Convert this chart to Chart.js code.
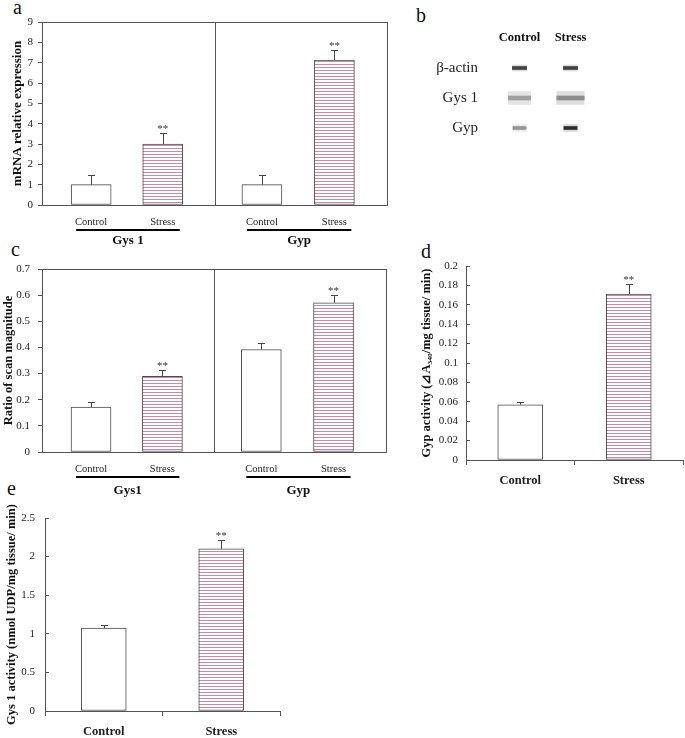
<!DOCTYPE html>
<html><head><meta charset="utf-8">
<script src="https://cdn.jsdelivr.net/npm/chart.js@4/dist/chart.umd.min.js"></script>
<style>
html,body{margin:0;padding:0;background:#fff;}
body{width:685px;height:738px;position:relative;overflow:hidden;font-family:"Liberation Serif",serif;}
.p{position:absolute;}
.p canvas{display:block;}
.lt{position:absolute;font:20px "Liberation Serif",serif;color:#111;line-height:1;}
</style></head><body>
<div class="lt" style="left:13px;top:-3px">a</div>
<div class="lt" style="left:416px;top:5px">b</div>
<div class="lt" style="left:11px;top:239px">c</div>
<div class="lt" style="left:421px;top:241px">d</div>
<div class="lt" style="left:7px;top:478px">e</div>
<div class="p" style="left:0;top:0;width:395px;height:250px"><canvas id="ca"></canvas></div>
<div class="p" style="left:400px;top:0;width:285px;height:160px"><canvas id="cb"></canvas></div>
<div class="p" style="left:0;top:250px;width:395px;height:255px"><canvas id="cc"></canvas></div>
<div class="p" style="left:390px;top:240px;width:295px;height:255px"><canvas id="cd"></canvas></div>
<div class="p" style="left:0;top:490px;width:300px;height:248px"><canvas id="ce"></canvas></div>
<script>
// ---------- data ----------
const conditions = ['Control', 'Stress'];
const genesA = ['Gys 1', 'Gyp'];
const genesC = ['Gys1', 'Gyp'];
const significance = ['', '**', '', '**'];
// a: mRNA relative expression (Gys 1 control, Gys 1 stress, Gyp control, Gyp stress)
const mrnaMean = [1.0, 3.0, 1.0, 7.13];
const mrnaErr = [0.47, 0.56, 0.5, 0.51];
const mrnaTicks = [0, 1, 2, 3, 4, 5, 6, 7, 8, 9];
// c: ratio of scan magnitude
const ratioMean = [0.172, 0.289, 0.392, 0.571];
const ratioErr = [0.021, 0.025, 0.024, 0.030];
const ratioTicks = [0, 0.1, 0.2, 0.3, 0.4, 0.5, 0.6, 0.7];
// d: Gyp activity
const gypActivity = [0.057, 0.171];
const gypActivityErr = [0.003, 0.010];
const gypTicks = [0, 0.02, 0.04, 0.06, 0.08, 0.1, 0.12, 0.14, 0.16, 0.18, 0.2];
const sigD = ['', '**'];
// e: Gys 1 activity
const gys1Activity = [1.075, 2.10];
const gys1ActivityErr = [0.043, 0.115];
const gys1Ticks = [0, 0.5, 1, 1.5, 2, 2.5];
const sigE = ['', '**'];
// b: western blot band intensity (0..1)
const blotRows = ['β-actin', 'Gys 1', 'Gyp'];
const blotControl = [0.80, 0.50, 0.45];
const blotStress = [0.80, 0.60, 0.90];

// ---------- styles ----------
const SERIF = '"Liberation Serif", "Times New Roman", serif';
const AX = '#555';
const OUT = '#4a4a4a';
function stripePattern() {
  const c = document.createElement('canvas'); c.width = 4; c.height = 3;
  const g = c.getContext('2d');
  g.fillStyle = '#fff'; g.fillRect(0, 0, 4, 3);
  g.fillStyle = '#c98ba3'; g.fillRect(0, 1, 4, 1);
  return g.createPattern(c, 'repeat');
}
const STRIPE = stripePattern();
const slots = [0.57, 1.40, 2.55, 3.39];   // horizontal slot positions (style)

const decor = {
  id: 'decor',
  afterDatasetsDraw(chart, args, o) {
    const ctx = chart.ctx;
    const meta = chart.getDatasetMeta(0);
    const ds = chart.data.datasets[0];
    const ys = chart.scales.y;
    ctx.save();
    meta.data.forEach((bar, i) => {
      const v = ds.means[i], e = ds.errors[i];
      const yt = ys.getPixelForValue(v), ye = ys.getPixelForValue(v + e);
      ctx.strokeStyle = '#444'; ctx.lineWidth = 1;
      ctx.beginPath();
      const x = Math.round(bar.x) + 0.5;
      ctx.moveTo(x, yt); ctx.lineTo(x, Math.round(ye) + 0.5);
      ctx.moveTo(x - 3.5, Math.round(ye) + 0.5); ctx.lineTo(x + 3.5, Math.round(ye) + 0.5);
      ctx.stroke();
      if (ds.stars[i]) {
        ctx.fillStyle = '#333'; ctx.font = '11px ' + SERIF;
        ctx.textAlign = 'center'; ctx.textBaseline = 'alphabetic';
        ctx.fillText(ds.stars[i], bar.x, ye - 1);
      }
    });
    ctx.restore();
  },
  afterDraw(chart, args, o) {
    const ctx = chart.ctx, a = chart.chartArea;
    const xs = chart.scales.x;
    ctx.save();
    if (o.box) {
      ctx.strokeStyle = AX; ctx.lineWidth = 1;
      ctx.strokeRect(Math.round(a.left) + 0.5, Math.round(a.top) + 0.5, Math.round(a.right - a.left), Math.round(a.bottom - a.top));
    }
    if (o.divider !== undefined) {
      const x = Math.round(xs.getPixelForValue(o.divider)) + 0.5;
      ctx.strokeStyle = AX; ctx.beginPath(); ctx.moveTo(x, a.top); ctx.lineTo(x, a.bottom); ctx.stroke();
    }
    if (o.groups) {
      const meta = chart.getDatasetMeta(0);
      o.groups.forEach((g, gi) => {
        const b0 = meta.data[gi * 2], b1 = meta.data[gi * 2 + 1];
        ctx.fillStyle = '#222'; ctx.font = '10.5px ' + SERIF;
        ctx.textAlign = 'center'; ctx.textBaseline = 'middle';
        ctx.fillText(o.cats[0], b0.x, o.catY);
        ctx.fillText(o.cats[1], b1.x, o.catY);
        ctx.strokeStyle = '#000'; ctx.lineWidth = 2;
        ctx.beginPath(); ctx.moveTo(b0.x - 15, o.lineY); ctx.lineTo(b1.x + 17, o.lineY); ctx.stroke();
        ctx.font = 'bold 13px ' + SERIF; ctx.fillStyle = '#111';
        ctx.fillText(g, (b0.x + b1.x) / 2 + 1, o.groupY);
      });
    }
    ctx.restore();
  }
};

function yAxis(min, max, ticks, title, w, tl, pad, tsize, tpad, fmt) {
  return {
    min, max,
    afterBuildTicks: s => { s.ticks = ticks.map(v => ({ value: v })); },
    afterFit: s => { s.width = w; },
    ticks: { font: { family: SERIF, size: 11 }, color: '#222', padding: pad, callback: fmt || (v => String(v)) },
    grid: { drawOnChartArea: false, tickLength: tl, color: AX },
    border: { color: AX },
    title: { display: true, text: title, color: '#111', font: { family: SERIF, size: tsize, weight: 'bold' }, padding: { top: tpad, bottom: 0 } }
  };
}

function groupedPanel(id, means, errs, yt, title, pad, tsize, tpad, lpad, dec) {
  return new Chart(document.getElementById(id), {
    type: 'bar',
    data: { datasets: [{
      data: means.map((v, i) => ({ x: slots[i], y: v })),
      means, errors: errs, stars: significance,
      backgroundColor: means.map((v, i) => i % 2 ? STRIPE : '#fff'),
      borderColor: OUT, borderWidth: 1, borderSkipped: false, barThickness: 40
    }] },
    options: {
      responsive: true, maintainAspectRatio: false, animation: false,
      layout: { padding: pad },
      plugins: { legend: { display: false }, tooltip: { enabled: false }, decor: dec },
      scales: {
        x: { type: 'linear', min: 0, max: 4, offset: false, display: false },
        y: yAxis(yt[0], yt[yt.length - 1], yt, title, 42, 4, lpad, tsize, tpad)
      }
    },
    plugins: [decor]
  });
}

groupedPanel('ca', mrnaMean, mrnaErr, mrnaTicks, 'mRNA relative expression',
  { top: 22, right: 8, bottom: 45, left: 0 }, 13, 10, 5,
  { box: true, divider: 2, groups: genesA, cats: conditions, catY: 222, lineY: 230, groupY: 241 });

groupedPanel('cc', ratioMean, ratioErr, ratioTicks, 'Ratio of scan magnitude',
  { top: 19, right: 9, bottom: 53, left: 0 }, 12.5, 1.5, 8,
  { box: true, divider: 2, groups: genesC, cats: conditions, catY: 219, lineY: 227, groupY: 241 });

function pairPanel(id, means, errs, stars, yt, title, pad, yw, tpad, lpad, xh, fmt) {
  return new Chart(document.getElementById(id), {
    type: 'bar',
    data: { labels: conditions, datasets: [{
      data: means, means, errors: errs, stars,
      backgroundColor: ['#fff', STRIPE],
      borderColor: OUT, borderWidth: 1, borderSkipped: false, barThickness: 45
    }] },
    options: {
      responsive: true, maintainAspectRatio: false, animation: false,
      layout: { padding: pad },
      plugins: { legend: { display: false }, tooltip: { enabled: false }, decor: {} },
      scales: {
        x: {
          offset: true,
          afterFit: s => { s.height = xh; },
          ticks: { font: { family: SERIF, size: 12.5, weight: 'bold' }, color: '#222', padding: 8 },
          grid: { offset: true, drawOnChartArea: false, tickLength: 5, color: AX },
          border: { color: AX }
        },
        y: yAxis(yt[0], yt[yt.length - 1], yt, title, yw, -4, lpad, 12.5, tpad, fmt)
      }
    },
    plugins: [decor]
  });
}

pairPanel('cd', gypActivity, gypActivityErr, sigD, gypTicks, 'Gyp activity (⊿A₃₄₀/mg tissue/ min)',
  { top: 26, right: 2, bottom: 0, left: 0 }, 76, 29.5, 12, 35, v => String(+v.toFixed(2)));

pairPanel('ce', gys1Activity, gys1ActivityErr, sigE, gys1Ticks, 'Gys 1 activity (nmol UDP/mg tissue/ min)',
  { top: 28, right: 20, bottom: 0, left: 0 }, 45, 4.5, 14, 27, v => String(+v.toFixed(1)));

// ---------- b: blot ----------
const bandHalf = [0.14, 0.22, 0.13];       // half widths (style)
const bandThick = [3, 4, 3];               // core thickness (style)
const haloThick = [6, 13, 7];              // background smear (style)
function grey(intensity, k) { const g = Math.round(255 - intensity * k); return `rgb(${g},${g},${g})`; }
const blotDatasets = [];
[blotControl, blotStress].forEach((lane, li) => {
  blotRows.forEach((r, ri) => {
    const hw = bandHalf[ri] * (li === 1 && ri === 1 ? 1.22 : 1);
    const range = [li + 0.5 - hw, li + 0.5 + hw];
    const d = blotRows.map((_, k) => k === ri ? range : null);
    // core band (drawn on top: lower order value)
    blotDatasets.push({ data: d, order: 0, backgroundColor: grey(lane[ri], ri === 1 ? 190 : 235), barThickness: bandThick[ri], borderWidth: 0, borderSkipped: false });
    // smear behind it
    blotDatasets.push({ data: d, order: 1, backgroundColor: grey(lane[ri], ri === 1 ? 55 : 45), barThickness: haloThick[ri], borderWidth: 0, borderSkipped: false });
  });
});
new Chart(document.getElementById('cb'), {
  type: 'bar',
  data: { labels: blotRows, datasets: blotDatasets },
  options: {
    indexAxis: 'y', responsive: true, maintainAspectRatio: false, animation: false,
    layout: { padding: { top: 0, right: 89, bottom: 17, left: 0 } },
    plugins: { legend: { display: false }, tooltip: { enabled: false } },
    datasets: { bar: { grouped: false } },
    scales: {
      x: {
        type: 'linear', position: 'top', min: 0, max: 2, offset: false,
        afterBuildTicks: s => { s.ticks = conditions.map((c, i) => ({ value: i + 0.5 })); },
        afterFit: s => { s.height = 53; },
        ticks: { font: { family: SERIF, size: 12.5, weight: 'bold' }, color: '#111', padding: 0,
          callback: (v, i) => conditions[i] },
        grid: { display: false }, border: { display: false }
      },
      y: {
        offset: true,
        afterFit: s => { s.width = 94; },
        ticks: { font: { family: SERIF, size: 15 }, color: '#222', padding: 8 },
        grid: { display: false }, border: { display: false }
      }
    }
  }
});
</script>
</body></html>
